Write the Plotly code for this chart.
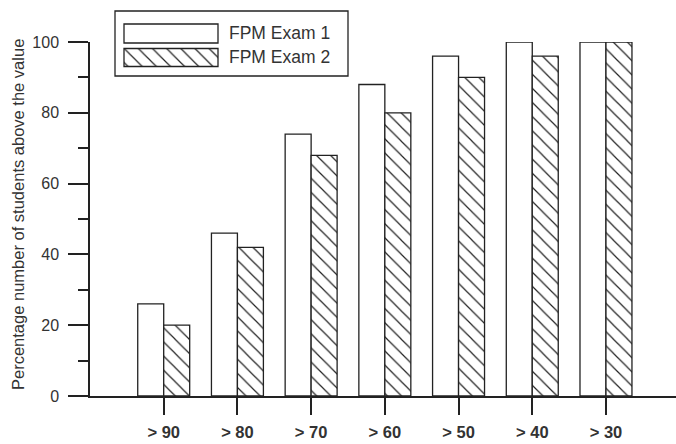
import plotly.graph_objects as go

W, H = 676, 444

categories = ["> 90", "> 80", "> 70", "> 60", "> 50", "> 40", "> 30"]
exam1 = [26, 46, 74, 88, 96, 100, 100]
exam2 = [20, 42, 68, 80, 90, 96, 100]
series_names = ["FPM Exam 1", "FPM Exam 2"]
y_ticks = [0, 20, 40, 60, 80, 100]
y_title = "Percentage number of students above the value"

FONT = "Liberation Sans, Arial, sans-serif"
INK = "#222222"
TXT = "#333333"

fig = go.Figure()

fig.add_trace(go.Bar(
    x=categories, y=exam1, name=series_names[0],
    marker=dict(color="white", line=dict(color=INK, width=1.3)),
    showlegend=False,
))
fig.add_trace(go.Bar(
    x=categories, y=exam2, name=series_names[1],
    marker=dict(color="white", line=dict(color=INK, width=1.3),
                pattern=dict(shape="\\", size=10, solidity=0.12,
                             fgcolor=INK, bgcolor="white", fillmode="replace")),
    showlegend=False,
))

# legend drawn on a small auxiliary axis pair (pixel-like units inside the legend box)
lx0, lx1, ly0, ly1 = 115, 348, 11, 76
fig.add_trace(go.Bar(
    x=[94], y=[22.5], base=[9], width=[19], orientation="h",
    marker=dict(color="white", line=dict(color=INK, width=1.3)),
    xaxis="x2", yaxis="y2", showlegend=False, hoverinfo="skip",
))
fig.add_trace(go.Bar(
    x=[94], y=[46.5], base=[9], width=[18], orientation="h",
    marker=dict(color="white", line=dict(color=INK, width=1.3),
                pattern=dict(shape="\\", size=10, solidity=0.12,
                             fgcolor=INK, bgcolor="white", fillmode="replace")),
    xaxis="x2", yaxis="y2", showlegend=False, hoverinfo="skip",
))
for name, yy in zip(series_names, [22.5, 46.5]):
    fig.add_annotation(x=112, y=yy, xref="x2", yref="y2", text=name, showarrow=False,
                       xanchor="left", yanchor="middle",
                       font=dict(family=FONT, size=17.5, color=TXT))

fig.add_shape(type="rect", xref="paper", yref="paper",
              x0=lx0 / W, x1=lx1 / W, y0=1 - ly1 / H, y1=1 - ly0 / H,
              line=dict(color=INK, width=1.3), fillcolor="rgba(0,0,0,0)")

fig.add_annotation(text=y_title, textangle=-90, xref="paper", yref="paper",
                   x=18 / W, y=1 - 215 / H, showarrow=False,
                   xanchor="center", yanchor="middle",
                   font=dict(family=FONT, size=16.5, color=TXT))

fig.update_layout(
    template="none",
    width=W, height=H, autosize=False,
    margin=dict(l=0, r=0, t=0, b=0, pad=0),
    paper_bgcolor="white", plot_bgcolor="white",
    barmode="group", bargap=0.295, bargroupgap=0,
    showlegend=False,
    xaxis=dict(
        domain=[90 / W, 1], range=[-1, 6.95], type="category", automargin=False,
        showline=True, linecolor=INK, linewidth=1.5,
        ticks="outside", ticklen=17, tickwidth=1.5, tickcolor=INK,
        tickson="labels", ticklabelstandoff=3,
        showgrid=False, zeroline=False,
        tickfont=dict(family=FONT, size=16.5, color=TXT, weight="bold"),
    ),
    yaxis=dict(
        domain=[48 / H, 402 / H], range=[0, 100], automargin=False,
        tickvals=y_ticks, ticklabelstandoff=6,
        showline=True, linecolor=INK, linewidth=1.5,
        ticks="outside", ticklen=20, tickwidth=1.5, tickcolor=INK,
        minor=dict(dtick=10, ticks="outside", ticklen=10, tickwidth=1.5, tickcolor=INK),
        showgrid=False, zeroline=False,
        tickfont=dict(family=FONT, size=16, color=TXT),
    ),
    xaxis2=dict(domain=[lx0 / W, lx1 / W], range=[0, lx1 - lx0], visible=False,
                anchor="y2", fixedrange=True, automargin=False),
    yaxis2=dict(domain=[1 - ly1 / H, 1 - ly0 / H], range=[ly1 - ly0, 0], visible=False,
                anchor="x2", fixedrange=True, automargin=False),
)

fig.write_html("out.html", config={"displayModeBar": False},
               post_script="document.body.style.margin='0';document.body.style.overflow='hidden';")
